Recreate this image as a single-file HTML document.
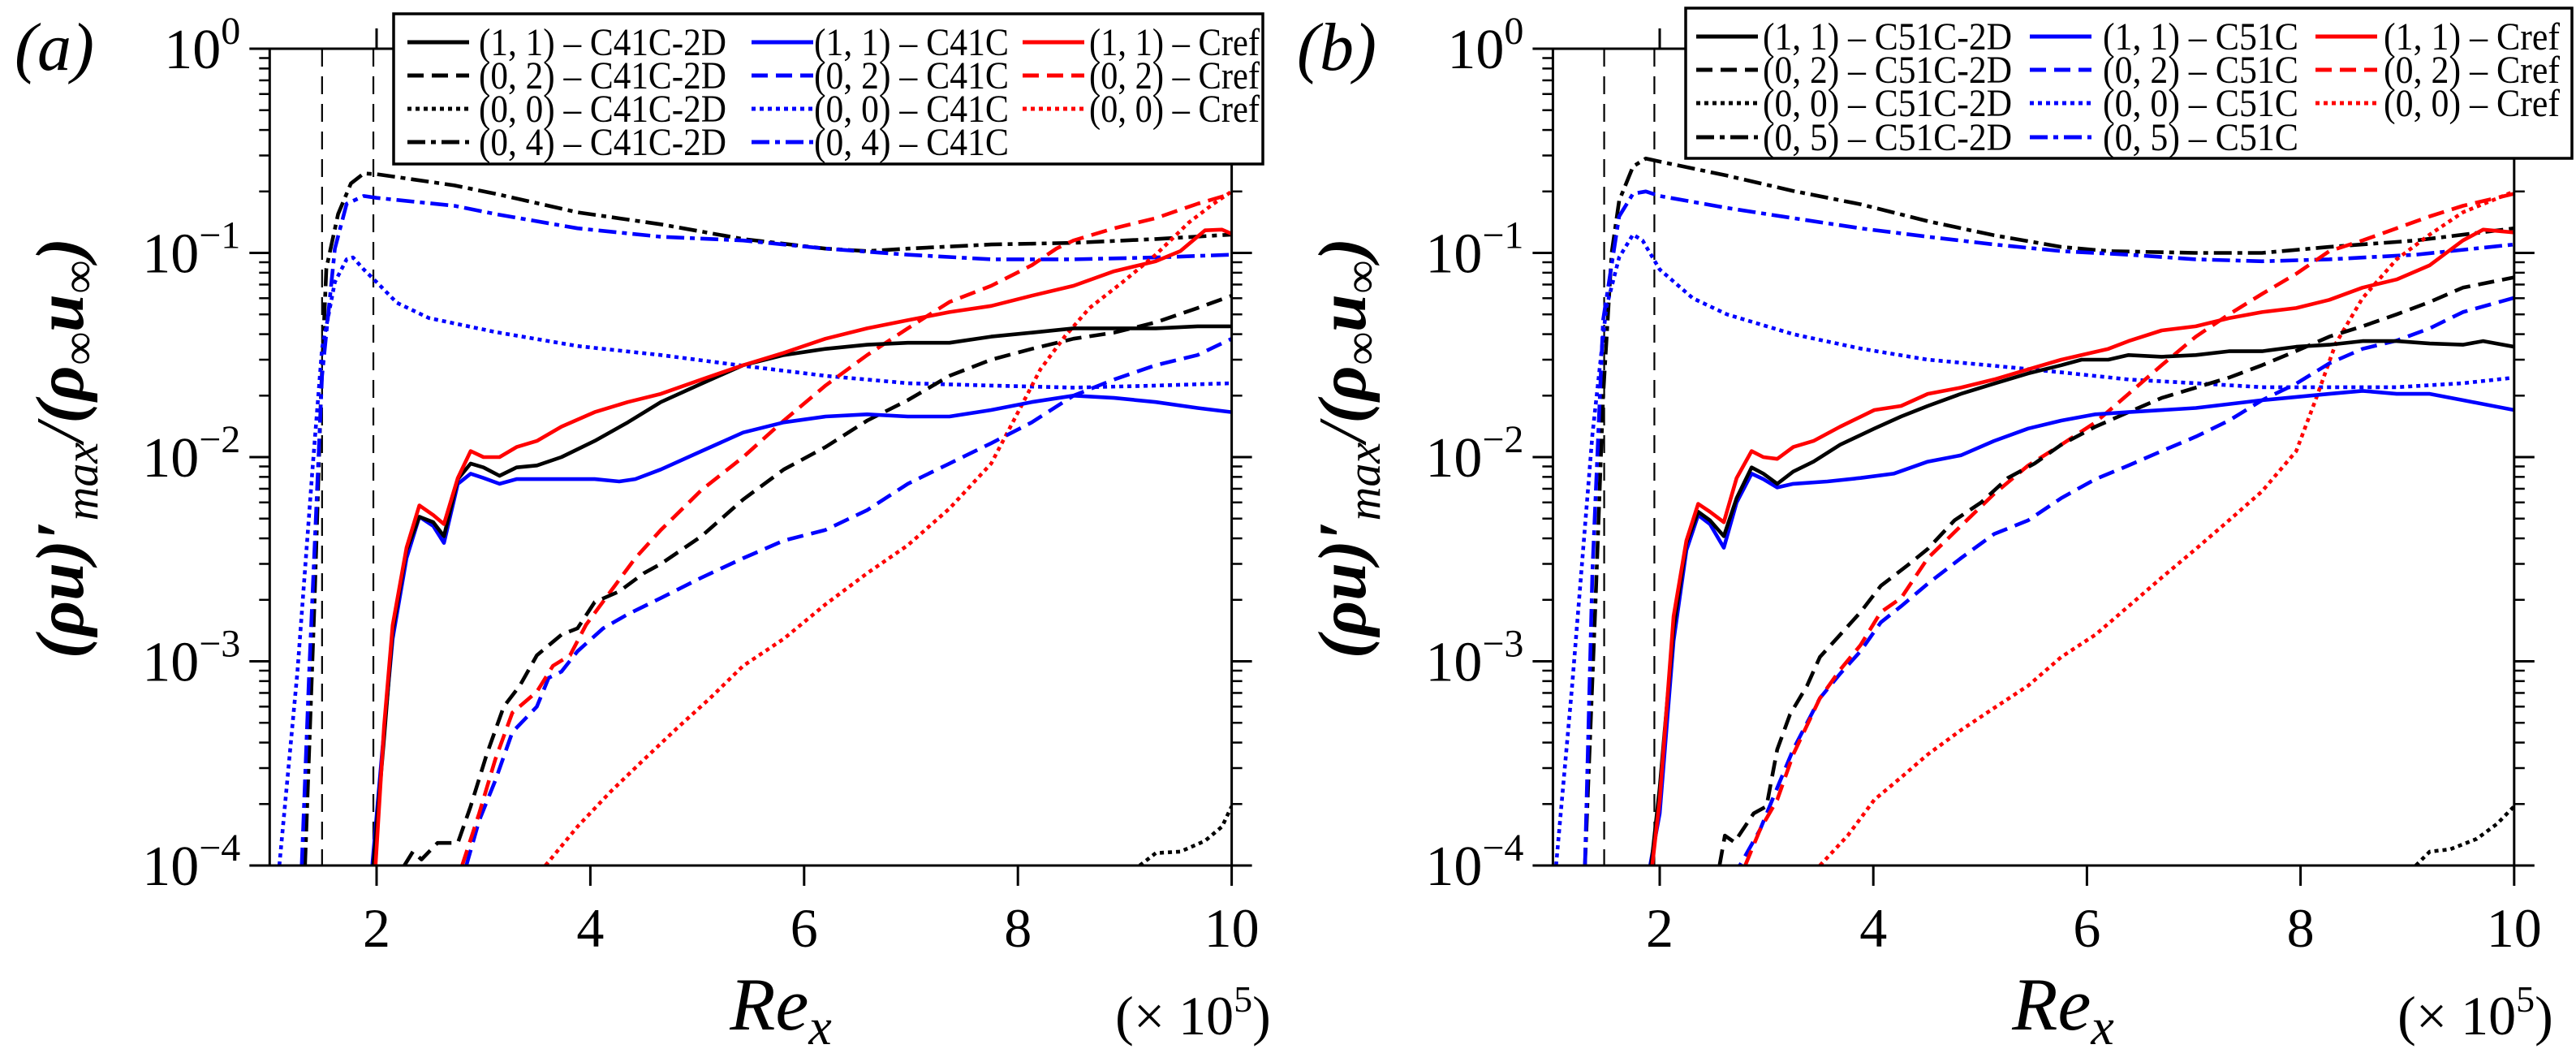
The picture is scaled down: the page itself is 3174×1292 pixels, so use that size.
<!DOCTYPE html>
<html><head><meta charset="utf-8">
<style>
html,body{margin:0;padding:0;background:#fff;}
svg{display:block;}
svg text{font-family:"Liberation Serif","Noto Serif CJK SC","DejaVu Serif",serif;fill:#000;}
</style></head>
<body>
<svg id="fig" width="3174" height="1292" viewBox="0 0 3174 1292" xmlns="http://www.w3.org/2000/svg">
<defs>
<clipPath id="clipA"><rect x="333" y="60" width="1185" height="1006"/></clipPath>
<clipPath id="clipB"><rect x="1913" y="60" width="1185" height="1006"/></clipPath>
</defs>
</svg>
<script>
// ---------- Data: panel (a) ----------
const xTicks = [2, 4, 6, 8, 10];
const yTickExps = [0, -1, -2, -3, -4];
const yTickLabels = ["0", "\u22121", "\u22122", "\u22123", "\u22124"];
const guideA = [1.49, 1.97];
const guideB = [1.48, 1.95];

const a_dd2D = [[1.33,1e-4],[1.42,2e-3],[1.48,0.02],[1.53,0.084],[1.64,0.155],[1.76,0.219],[1.88,0.245],[2,0.243],[2.73,0.214],[3.11,0.195],[3.88,0.158],[4.66,0.138],[5.43,0.117],[6.2,0.105],[6.59,0.102],[6.97,0.105],[7.75,0.11],[8.52,0.112],[9.29,0.117],[10,0.123]];
const a_ddC = [[1.3,1e-4],[1.37,8.9e-4],[1.49,0.025],[1.61,0.105],[1.72,0.174],[1.88,0.19],[2,0.186],[2.73,0.17],[3.11,0.155],[3.88,0.132],[4.66,0.12],[5.43,0.115],[6.2,0.105],[6.97,0.098],[7.75,0.093],[8.52,0.093],[9.29,0.095],[10,0.098]];
const a_dotC = [[1.09,1e-4],[1.26,8.9e-4],[1.4,8.7e-3],[1.49,0.034],[1.61,0.072],[1.72,0.093],[1.78,0.095],[1.88,0.083],[2,0.072],[2.19,0.057],[2.49,0.048],[3.11,0.041],[3.88,0.035],[4.66,0.0316],[5.43,0.028],[6.2,0.025],[6.97,0.023],[7.75,0.0224],[8.52,0.0219],[9.29,0.0224],[10,0.023]];
const a_sol2D = [[1.97,1e-4],[2.07,4.2e-4],[2.15,1.41e-3],[2.28,3.5e-3],[2.4,5.1e-3],[2.53,4.8e-3],[2.63,4.1e-3],[2.76,7.8e-3],[2.88,9.3e-3],[3,8.9e-3],[3.15,8.1e-3],[3.31,8.9e-3],[3.5,9.1e-3],[3.73,0.01],[4.04,0.012],[4.35,0.0148],[4.66,0.0186],[5.04,0.0229],[5.43,0.0282],[5.81,0.0316],[6.2,0.0339],[6.59,0.0355],[6.97,0.0363],[7.36,0.0363],[7.75,0.0389],[8.13,0.0407],[8.52,0.0427],[8.9,0.0427],[9.29,0.0427],[9.68,0.0437],[10,0.0437]];
const a_solRef = [[1.99,1e-4],[2.07,4.8e-4],[2.15,1.5e-3],[2.28,3.6e-3],[2.4,5.8e-3],[2.53,5.2e-3],[2.63,4.7e-3],[2.76,7.9e-3],[2.88,0.0107],[3,0.01],[3.15,0.01],[3.31,0.0112],[3.5,0.012],[3.73,0.0141],[4.04,0.0166],[4.35,0.0186],[4.66,0.0204],[5.04,0.024],[5.43,0.0282],[5.81,0.0324],[6.2,0.038],[6.59,0.0427],[6.97,0.0468],[7.36,0.0513],[7.75,0.055],[8.13,0.0617],[8.52,0.069],[8.9,0.0813],[9.29,0.091],[9.52,0.102],[9.75,0.129],[9.91,0.13],[10,0.124]];
const a_solC = [[1.96,1e-4],[2.05,3.5e-4],[2.15,1.29e-3],[2.28,3.2e-3],[2.4,5.1e-3],[2.53,4.6e-3],[2.63,3.8e-3],[2.76,7.4e-3],[2.88,8.3e-3],[3,7.9e-3],[3.15,7.4e-3],[3.31,7.8e-3],[3.5,7.8e-3],[3.73,7.8e-3],[4.04,7.8e-3],[4.27,7.6e-3],[4.42,7.8e-3],[4.66,8.7e-3],[5.04,0.0107],[5.43,0.0132],[5.81,0.0148],[6.2,0.0158],[6.59,0.0162],[6.97,0.0158],[7.36,0.0158],[7.75,0.017],[8.13,0.0186],[8.52,0.02],[8.9,0.0195],[9.29,0.0186],[9.68,0.0174],[10,0.0166]];
const a_dash2D = [[2.26,1e-4],[2.34,1.17e-4],[2.42,1.07e-4],[2.57,1.29e-4],[2.76,1.29e-4],[2.88,1.95e-4],[3.03,3.5e-4],[3.19,6.0e-4],[3.34,7.6e-4],[3.5,1.07e-3],[3.73,1.35e-3],[3.88,1.45e-3],[4.04,1.95e-3],[4.27,2.2e-3],[4.5,2.7e-3],[4.66,3.0e-3],[5.04,4.1e-3],[5.43,6.2e-3],[5.81,8.7e-3],[6.2,0.0112],[6.59,0.0151],[6.97,0.019],[7.36,0.025],[7.75,0.03],[8.13,0.0339],[8.52,0.038],[8.9,0.0407],[9.29,0.0457],[9.68,0.0537],[10,0.0617]];
const a_dashC = [[2.84,1e-4],[2.96,1.66e-4],[3.11,2.6e-4],[3.27,4.5e-4],[3.5,6.0e-4],[3.61,8.3e-4],[3.73,8.9e-4],[3.88,1.12e-3],[4.12,1.45e-3],[4.35,1.7e-3],[4.66,2.04e-3],[5.04,2.57e-3],[5.43,3.2e-3],[5.81,3.9e-3],[6.2,4.4e-3],[6.59,5.5e-3],[6.97,7.4e-3],[7.36,9.3e-3],[7.75,0.0117],[8.13,0.0148],[8.52,0.02],[8.9,0.024],[9.29,0.0282],[9.68,0.0316],[10,0.038]];
const a_dashRef = [[2.8,1e-4],[2.96,1.8e-4],[3.11,3.3e-4],[3.27,5.6e-4],[3.5,7.1e-4],[3.65,9.5e-4],[3.81,1.07e-3],[3.96,1.51e-3],[4.19,2.2e-3],[4.42,3.2e-3],[4.66,4.4e-3],[5.04,6.9e-3],[5.43,0.01],[5.81,0.0151],[6.2,0.0224],[6.59,0.0316],[6.97,0.0427],[7.36,0.0575],[7.75,0.069],[8.13,0.087],[8.36,0.105],[8.52,0.115],[8.9,0.132],[9.29,0.148],[9.68,0.174],[10,0.195]];
const a_dotRef = [[3.58,1e-4],[3.88,1.55e-4],[4.19,2.3e-4],[4.5,3.3e-4],[4.81,4.7e-4],[5.12,6.6e-4],[5.43,9.5e-4],[5.81,1.29e-3],[6.2,1.9e-3],[6.59,2.7e-3],[6.97,3.7e-3],[7.36,5.6e-3],[7.75,9.3e-3],[7.98,0.0158],[8.21,0.0269],[8.44,0.039],[8.67,0.0537],[8.98,0.072],[9.29,0.098],[9.6,0.141],[9.83,0.174],[10,0.2]];
const a_dot2D = [[9.14,1e-4],[9.29,1.15e-4],[9.52,1.17e-4],[9.75,1.32e-4],[9.91,1.55e-4],[10,1.95e-4]];

// ---------- Data: panel (b) ----------
const b_dd2D = [[1.3,1e-4],[1.4,2e-3],[1.47,0.02],[1.55,0.1],[1.62,0.18],[1.75,0.265],[1.87,0.29],[2,0.28],[2.63,0.239],[3.25,0.201],[3.88,0.173],[4.51,0.143],[5.13,0.122],[5.76,0.107],[6.2,0.102],[7.02,0.1],[7.64,0.1],[8.27,0.107],[9.08,0.115],[10,0.132]];
const b_ddC = [[1.3,1e-4],[1.37,2.75e-3],[1.47,0.047],[1.62,0.151],[1.75,0.195],[1.87,0.2],[2,0.19],[2.63,0.166],[3.25,0.148],[3.88,0.132],[4.51,0.12],[5.13,0.11],[5.76,0.102],[6.39,0.098],[7.02,0.093],[7.64,0.091],[8.27,0.093],[9.08,0.098],[10,0.11]];
const b_dotC = [[1.03,1e-4],[1.18,7.6e-4],[1.37,0.0129],[1.5,0.054],[1.62,0.095],[1.75,0.123],[1.84,0.115],[2,0.083],[2.31,0.06],[2.63,0.05],[3.25,0.04],[3.88,0.034],[4.51,0.03],[5.13,0.028],[5.76,0.026],[6.39,0.024],[7.02,0.023],[7.64,0.022],[8.27,0.022],[8.9,0.022],[9.52,0.023],[10,0.0245]];
const b_sol2D = [[1.92,1e-4],[2,2.4e-4],[2.13,1.45e-3],[2.25,3.8e-3],[2.36,5.4e-3],[2.47,4.9e-3],[2.6,4.1e-3],[2.72,6.3e-3],[2.86,8.9e-3],[2.97,8.3e-3],[3.1,7.4e-3],[3.25,8.5e-3],[3.44,9.5e-3],[3.69,0.0115],[4.01,0.0138],[4.26,0.0158],[4.51,0.0178],[4.82,0.0204],[5.13,0.0229],[5.45,0.0257],[5.76,0.0282],[5.95,0.03],[6.2,0.03],[6.39,0.0316],[6.7,0.031],[7.02,0.0316],[7.33,0.033],[7.64,0.033],[7.96,0.0347],[8.27,0.0355],[8.58,0.037],[8.9,0.037],[9.21,0.036],[9.52,0.0355],[9.71,0.037],[10,0.0347]];
const b_solRef = [[1.93,1e-4],[2,2.1e-4],[2.13,1.66e-3],[2.25,3.9e-3],[2.36,5.9e-3],[2.47,5.4e-3],[2.6,4.8e-3],[2.72,7.9e-3],[2.86,0.0107],[2.97,0.01],[3.1,0.0098],[3.25,0.0112],[3.44,0.012],[3.69,0.0141],[4.01,0.017],[4.26,0.0178],[4.51,0.0204],[4.82,0.0219],[5.13,0.024],[5.45,0.0269],[5.76,0.03],[5.95,0.0316],[6.2,0.0339],[6.39,0.037],[6.7,0.0417],[7.02,0.0437],[7.33,0.0479],[7.64,0.0513],[7.96,0.0537],[8.27,0.0589],[8.58,0.0676],[8.9,0.0741],[9.21,0.087],[9.52,0.115],[9.71,0.13],[10,0.126]];
const b_solC = [[1.91,1e-4],[2,1.8e-4],[2.13,1.26e-3],[2.25,3.5e-3],[2.36,5.2e-3],[2.47,4.7e-3],[2.6,3.6e-3],[2.72,6.0e-3],[2.86,8.3e-3],[2.97,7.8e-3],[3.1,7.1e-3],[3.25,7.4e-3],[3.57,7.6e-3],[3.88,7.9e-3],[4.19,8.3e-3],[4.51,9.5e-3],[4.82,0.0102],[5.13,0.012],[5.45,0.0138],[5.76,0.0151],[6.08,0.0162],[6.39,0.0166],[7.02,0.0174],[7.64,0.019],[8.27,0.0204],[8.58,0.0211],[8.9,0.0204],[9.21,0.0204],[9.52,0.019],[10,0.017]];
const b_dash2D = [[2.56,1e-4],[2.61,1.4e-4],[2.7,1.3e-4],[2.88,1.8e-4],[3,1.95e-4],[3.1,3.7e-4],[3.22,5.5e-4],[3.38,7.6e-4],[3.5,1.05e-3],[3.69,1.35e-3],[3.88,1.74e-3],[4.07,2.34e-3],[4.32,2.95e-3],[4.51,3.55e-3],[4.76,4.9e-3],[5.01,6.0e-3],[5.26,7.9e-3],[5.51,9.3e-3],[5.76,0.0115],[6.08,0.0141],[6.39,0.0166],[6.7,0.0195],[7.02,0.0219],[7.33,0.0245],[7.64,0.0282],[7.96,0.0331],[8.27,0.0389],[8.58,0.0437],[8.9,0.05],[9.21,0.0575],[9.52,0.0676],[10,0.0759]];
const b_dashC = [[2.63,9.5e-5],[2.75,1.0e-4],[2.94,1.5e-4],[3.1,2.4e-4],[3.25,3.7e-4],[3.5,6.6e-4],[3.69,8.7e-4],[3.88,1.12e-3],[4.07,1.55e-3],[4.26,1.86e-3],[4.51,2.4e-3],[4.82,3.2e-3],[5.13,4.2e-3],[5.45,4.9e-3],[5.76,6.3e-3],[6.08,7.8e-3],[6.39,9.1e-3],[6.7,0.0107],[7.02,0.0126],[7.33,0.0151],[7.64,0.019],[7.96,0.0229],[8.27,0.0288],[8.58,0.0339],[8.9,0.0372],[9.21,0.0427],[9.52,0.0513],[10,0.0603]];
const b_dashRef = [[2.8,1e-4],[2.94,1.5e-4],[3.1,2.1e-4],[3.25,3.5e-4],[3.5,6.6e-4],[3.69,9.1e-4],[3.88,1.2e-3],[4.07,1.74e-3],[4.26,2.04e-3],[4.51,3.2e-3],[4.82,4.6e-3],[5.13,6.6e-3],[5.45,9.1e-3],[5.76,0.0115],[6.08,0.0148],[6.39,0.0204],[6.7,0.0282],[7.02,0.0389],[7.33,0.05],[7.64,0.063],[7.96,0.079],[8.27,0.102],[8.58,0.115],[8.9,0.132],[9.21,0.151],[9.52,0.17],[10,0.195]];
const b_dotRef = [[3.5,1e-4],[3.76,1.4e-4],[4.01,2.1e-4],[4.26,2.7e-4],[4.51,3.5e-4],[4.82,4.6e-4],[5.13,5.9e-4],[5.45,7.6e-4],[5.76,1.05e-3],[6.08,1.35e-3],[6.39,1.86e-3],[6.7,2.57e-3],[7.02,3.55e-3],[7.33,4.9e-3],[7.64,6.8e-3],[7.96,0.0107],[8.14,0.019],[8.33,0.036],[8.58,0.06],[8.9,0.093],[9.21,0.123],[9.52,0.158],[10,0.2]];
const b_dot2D = [[9.08,1e-4],[9.21,1.17e-4],[9.4,1.2e-4],[9.65,1.35e-4],[9.84,1.6e-4],[10,1.95e-4]];

const legendLabelsA = ["(1, 1) \u2013 C41C-2D","(0, 2) \u2013 C41C-2D","(0, 0) \u2013 C41C-2D","(0, 4) \u2013 C41C-2D","(1, 1) \u2013 C41C","(0, 2) \u2013 C41C","(0, 0) \u2013 C41C","(0, 4) \u2013 C41C","(1, 1) \u2013 Cref","(0, 2) \u2013 Cref","(0, 0) \u2013 Cref"];
const legendLabelsB = ["(1, 1) \u2013 C51C-2D","(0, 2) \u2013 C51C-2D","(0, 0) \u2013 C51C-2D","(0, 5) \u2013 C51C-2D","(1, 1) \u2013 C51C","(0, 2) \u2013 C51C","(0, 0) \u2013 C51C","(0, 5) \u2013 C51C","(1, 1) \u2013 Cref","(0, 2) \u2013 Cref","(0, 0) \u2013 Cref"];

// ---------- Drawing ----------
const NS = "http://www.w3.org/2000/svg";
const FONT = "'Liberation Serif', 'Noto Serif CJK SC', 'DejaVu Serif', serif";
const svg = document.getElementById("fig");
const STYLE = {solid:"", dashed:"20,10", dotted:"5,5", dashdot:"22,7,6,7"};
const COL = {k:"#000000", b:"#0000ff", r:"#ff0000"};

function mk(tag, attrs, parent){
  const e = document.createElementNS(NS, tag);
  for (const k in attrs) e.setAttribute(k, attrs[k]);
  if (tag === "text") e.style.fontFamily = FONT;
  (parent || svg).appendChild(e);
  return e;
}

function panel(cfg){
  const g = mk("g", {});
  
  
  const xs = v => cfg.x2 + (v - 2) * cfg.sx;
  const ys = v => 60 + (-Math.log10(v)) * 251.5;
  const L = xs(1), R = xs(10), T = 60, B = 1066;

  cfg.guides.forEach(function(gx){
    const ln = mk("line", {x1:xs(gx), x2:xs(gx), y1:T, y2:B, stroke:"#000", "stroke-width":2.2, "stroke-dasharray":"22,12"}, g);
    
    
  });

  const cg = mk("g", {"clip-path":"url(#" + cfg.clip + ")"}, g);
  cfg.series.forEach(function(s){
    const d = s.data.map((p,i) => (i ? "L" : "M") + xs(p[0]).toFixed(1) + "," + ys(p[1]).toFixed(1)).join("");
    const path = mk("path", {d:d, fill:"none", stroke:COL[s.c], "stroke-width":4.6, "stroke-dasharray":STYLE[s.st], "stroke-linejoin":"round"}, cg);
    
    
  });

  const fr = mk("rect", {x:L, y:T, width:R-L, height:B-T, fill:"none", stroke:"#000", "stroke-width":3}, g);
  
  

  xTicks.forEach(function(t){
    const x = xs(t);
    mk("line", {x1:x, x2:x, y1:B, y2:B+25, stroke:"#000", "stroke-width":3}, g);
    mk("line", {x1:x, x2:x, y1:T, y2:T-25, stroke:"#000", "stroke-width":3}, g);
    const tl = mk("text", {x:x, y:1166, "font-size":68, "text-anchor":"middle"}, g);
    tl.textContent = String(t);
    
    
  });

  yTickExps.forEach(function(e, i){
    const y = ys(Math.pow(10, e));
    mk("line", {x1:L-25, x2:L, y1:y, y2:y, stroke:"#000", "stroke-width":3}, g);
    mk("line", {x1:R, x2:R+25, y1:y, y2:y, stroke:"#000", "stroke-width":3}, g);
    if (e > -4) {
      for (let m = 2; m <= 9; m++) {
        const ym = ys(m * Math.pow(10, e - 1));
        mk("line", {x1:L-13, x2:L, y1:ym, y2:ym, stroke:"#000", "stroke-width":2.5}, g);
        mk("line", {x1:R, x2:R+13, y1:ym, y2:ym, stroke:"#000", "stroke-width":2.5}, g);
      }
    }
    const tl = mk("text", {x:L-36, y:y+24, "font-size":70, "text-anchor":"end"}, g);
    
    
    const t1 = mk("tspan", {}, tl); t1.textContent = "10";
    const t2 = mk("tspan", {dy:-30, "font-size":48}, tl); t2.textContent = yTickLabels[i];
  });

  const yl = mk("text", {x:0, y:0, "font-size":84, "font-style":"italic", "text-anchor":"middle", transform:"translate(" + (cfg.off + 102) + ",552) rotate(-90)"}, g);
  
  
  const a1 = mk("tspan", {"font-weight":"bold"}, yl); a1.textContent = "(\u03c1u)\u2032";
  const a2 = mk("tspan", {dy:18, "font-size":58}, yl); a2.textContent = "max";
  const a3 = mk("tspan", {dy:-18}, yl); a3.textContent = "/";
  const a3b = mk("tspan", {"font-weight":"bold"}, yl); a3b.textContent = "(\u03c1";
  const a4 = mk("tspan", {dy:14, "font-size":58, "font-weight":"bold"}, yl); a4.textContent = "\u221e";
  const a5 = mk("tspan", {dy:-14, "font-weight":"bold"}, yl); a5.textContent = "u";
  const a6 = mk("tspan", {dy:14, "font-size":58, "font-weight":"bold"}, yl); a6.textContent = "\u221e";
  const a7 = mk("tspan", {dy:-14, "font-weight":"bold"}, yl); a7.textContent = ")";

  const xl = mk("text", {x:cfg.off + 962, y:1268, "font-size":92, "font-style":"italic", "text-anchor":"middle"}, g);
  
  
  const x1 = mk("tspan", {}, xl); x1.textContent = "Re";
  const x2 = mk("tspan", {dy:18, "font-size":64}, xl); x2.textContent = "x";

  const sc = mk("text", {x:cfg.off + 1470, y:1274, "font-size":68, "text-anchor":"middle"}, g);
  
  
  const s1 = mk("tspan", {}, sc); s1.textContent = "(\u00d7 10";
  const s2 = mk("tspan", {dy:-28, "font-size":46}, sc); s2.textContent = "5";
  const s3 = mk("tspan", {dy:28}, sc); s3.textContent = ")";

  const pl = mk("text", {x:cfg.off + 18, y:86, "font-size":84, "font-style":"italic"}, g);
  pl.textContent = cfg.label;
  
  

  const lg = mk("g", {}, g);
  
  
  const LB = cfg.legend;
  mk("rect", {x:LB.x, y:LB.y, width:LB.w, height:LB.h, fill:"#fff", stroke:"#000", "stroke-width":3.5}, lg);
  const styles = [["k","solid"],["k","dashed"],["k","dotted"],["k","dashdot"],["b","solid"],["b","dashed"],["b","dotted"],["b","dashdot"],["r","solid"],["r","dashed"],["r","dotted"]];
  styles.forEach(function(st, i){
    const col = Math.floor(i / 4), row = i % 4;
    const y = LB.rows[row];
    const hx = LB.hx[col];
    const ln = mk("line", {x1:hx, x2:hx+76, y1:y, y2:y, stroke:COL[st[0]], "stroke-width":5, "stroke-dasharray":STYLE[st[1]]}, lg);
    
    
    const tx = mk("text", {x:LB.tx[col], y:y+16, "font-size":48, textLength:LB.tw[col], lengthAdjust:"spacingAndGlyphs"}, lg);
    tx.textContent = cfg.labels[i];
    
    
  });
}

panel({id:"a", label:"(a)", off:0, x2:464, sx:131.7, clip:"clipA", guides:guideA, labels:legendLabelsA,
  legend:{x:485, y:17, w:1071, h:185, rows:[52,93,134,175], hx:[502,926,1260], tx:[590,1003,1342], tw:[305,240,210]},
  series:[
    {name:"c41c-2d-mode-0-4", data:a_dd2D, c:"k", st:"dashdot"},
    {name:"c41c-mode-0-4", data:a_ddC, c:"b", st:"dashdot"},
    {name:"c41c-mode-0-0", data:a_dotC, c:"b", st:"dotted"},
    {name:"c41c-2d-mode-0-0", data:a_dot2D, c:"k", st:"dotted"},
    {name:"cref-mode-0-0", data:a_dotRef, c:"r", st:"dotted"},
    {name:"c41c-mode-0-2", data:a_dashC, c:"b", st:"dashed"},
    {name:"cref-mode-0-2", data:a_dashRef, c:"r", st:"dashed"},
    {name:"c41c-2d-mode-0-2", data:a_dash2D, c:"k", st:"dashed"},
    {name:"c41c-mode-1-1", data:a_solC, c:"b", st:"solid"},
    {name:"c41c-2d-mode-1-1", data:a_sol2D, c:"k", st:"solid"},
    {name:"cref-mode-1-1", data:a_solRef, c:"r", st:"solid"}
  ]});

panel({id:"b", label:"(b)", off:1580, x2:2045, sx:131.6, clip:"clipB", guides:guideB, labels:legendLabelsB,
  legend:{x:2077, y:10, w:1092, h:185, rows:[45,86,127,169], hx:[2090,2501,2853], tx:[2172,2591,2937], tw:[307,241,217]},
  series:[
    {name:"c51c-2d-mode-0-5", data:b_dd2D, c:"k", st:"dashdot"},
    {name:"c51c-mode-0-5", data:b_ddC, c:"b", st:"dashdot"},
    {name:"c51c-mode-0-0", data:b_dotC, c:"b", st:"dotted"},
    {name:"c51c-2d-mode-0-0", data:b_dot2D, c:"k", st:"dotted"},
    {name:"cref-mode-0-0", data:b_dotRef, c:"r", st:"dotted"},
    {name:"c51c-mode-0-2", data:b_dashC, c:"b", st:"dashed"},
    {name:"cref-mode-0-2", data:b_dashRef, c:"r", st:"dashed"},
    {name:"c51c-2d-mode-0-2", data:b_dash2D, c:"k", st:"dashed"},
    {name:"c51c-mode-1-1", data:b_solC, c:"b", st:"solid"},
    {name:"c51c-2d-mode-1-1", data:b_sol2D, c:"k", st:"solid"},
    {name:"cref-mode-1-1", data:b_solRef, c:"r", st:"solid"}
  ]});
</script>
</body></html>
